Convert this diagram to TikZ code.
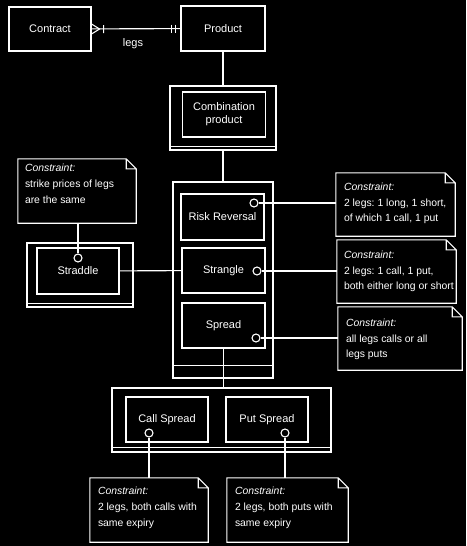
\documentclass[tikz,border=0pt]{standalone}
\usepackage{fontspec}
\setmainfont{Liberation Sans}
\frenchspacing
\tikzset{
  line/.style={draw=white, line width=1.1pt},
  box/.style={line, fill=black, text=white, inner sep=0pt, align=center, font=\fontsize{11}{13}\selectfont},
  port/.style={line, fill=black, circle, minimum size=8pt, inner sep=0pt},
  note/.style={fill=black, inner sep=0pt},
  notetext/.style={text=white, inner sep=0pt, align=left, font=\fontsize{10.4}{15.8}\selectfont},
}
\newcommand\dogear[1]{\draw[line] (#1.north west) -- ([xshift=-10pt]#1.north east) -- ([yshift=-10pt]#1.north east) -- (#1.south east) -- (#1.south west) -- cycle
  ([xshift=-10pt]#1.north east) |- ([yshift=-10pt]#1.north east);}
\newcommand\compline[2]{\draw[line] ([yshift=#2]#1.south west) -- ([yshift=#2]#1.south east);}

\begin{document}
\begin{tikzpicture}[x=1pt,y=-1pt]
\useasboundingbox (0,0) rectangle (466,546);
\fill[black] (0,0) rectangle (466,546);
% contract and product
\node[box, minimum width=82pt, minimum height=44pt] (contract) at (50,29) {Contract};
\node[box, minimum width=84pt, minimum height=45pt] (product) at (223,28.5) {Product};
\draw[line] (contract) -- (product) node[midway, below=6pt, text=white, font=\fontsize{11}{13}\selectfont, xshift=-3pt] (legs) {legs};
\draw[line] ([yshift=5pt]contract.east) -- ([xshift=8pt]contract.east) -- ([yshift=-5pt]contract.east)
  ([xshift=12pt,yshift=4pt]contract.east) -- ([xshift=12pt,yshift=-4pt]contract.east);
\draw[line] ([xshift=-9pt,yshift=4pt]product.west) -- ([xshift=-9pt,yshift=-4pt]product.west)
  ([xshift=-5pt,yshift=4pt]product.west) -- ([xshift=-5pt,yshift=-4pt]product.west);
% combination product
\node[box, minimum width=106pt, minimum height=64pt] (comb) at (223,118) {};
\compline{comb}{4pt}
\node[box, minimum width=83pt, minimum height=45pt] (combin) at (224,114.5) {Combination\\product};
\draw[line] (product) -- (comb);
% strategy family
\node[box, minimum width=100pt, minimum height=196pt] (family) at (223,280) {};
\compline{family}{13pt}
\draw[line] (comb) -- (family);
\node[box, minimum width=83pt, minimum height=46pt] (riskrev) at (222.5,217) {\raisebox{-3pt}{Risk Reversal}};
\node[box, minimum width=83pt, minimum height=45pt] (strangle) at (223.5,270.5) {Strangle};
\node[box, minimum width=83pt, minimum height=45pt] (spread) at (223.5,325.5) {Spread};
\node[port] (rrc) at (254,203) {};
\node[port] (stgc) at (257,271) {};
\node[port] (sprc) at (256,338) {};
% straddle
\node[box, minimum width=106pt, minimum height=64pt] (straddle) at (80,275) {};
\compline{straddle}{4pt}
\node[box, minimum width=82pt, minimum height=46pt] (straddlein) at (78,271) {Straddle};
\node[port] (strc) at (78,258) {};
\draw[line] (straddlein) -- (strangle);
% call and put spreads
\node[box, minimum width=219pt, minimum height=64pt] (spreads) at (221.5,420) {};
\compline{spreads}{5pt}
\node[box, minimum width=82pt, minimum height=45pt] (callspread) at (167,419.5) {Call Spread};
\node[box, minimum width=82pt, minimum height=45pt] (putspread) at (267,419.5) {Put Spread};
\node[port] (callc) at (149,433) {};
\node[port] (putc) at (285,433) {};
\draw[line] (spread.south) -- (spread.south |- spreads.north);
% constraints
\node[note, minimum width=118pt, minimum height=64pt] (notestr) at (77,191) {};
\node[note, minimum width=119pt, minimum height=63pt] (noterr) at (395.5,204.5) {};
\node[note, minimum width=119pt, minimum height=63pt] (notestg) at (396.5,271.5) {};
\node[note, minimum width=124pt, minimum height=63pt] (notespr) at (400,338.5) {};
\node[note, minimum width=118pt, minimum height=64pt] (notecall) at (149,510) {};
\node[note, minimum width=121pt, minimum height=64pt] (noteput) at (287.5,510) {};
\dogear{notestr}\dogear{noterr}\dogear{notestg}\dogear{notespr}\dogear{notecall}\dogear{noteput}
\node[notetext, anchor=north west] (strtext) at ([xshift=7pt,yshift=-5pt]notestr.north west) {\textit{Constraint:}\\strike prices of legs\\are the same};
\node[notetext, anchor=west] (rrtext) at ([xshift=8pt,yshift=1pt]noterr.west) {\textit{Constraint:}\\2 legs: 1 long, 1 short,\\of which 1 call, 1 put};
\node[notetext, anchor=west] (stgtext) at ([xshift=7pt]notestg.west) {\textit{Constraint:}\\2 legs: 1 call, 1 put,\\both either long or short};
\node[notetext, anchor=west] (sprtext) at ([xshift=8pt,yshift=-1pt]notespr.west) {\textit{Constraint:}\\all legs calls or all\\legs puts};
\node[notetext, anchor=west] (calltext) at ([xshift=8pt,yshift=2pt]notecall.west) {\textit{Constraint:}\\2 legs, both calls with\\same expiry};
\node[notetext, anchor=west] (puttext) at ([xshift=8pt,yshift=2pt]noteput.west) {\textit{Constraint:}\\2 legs, both puts with\\same expiry};
\draw[line] (strc) -- (strc |- notestr.south);
\draw[line] (rrc) -- (rrc -| noterr.west);
\draw[line] (stgc) -- (stgc -| notestg.west);
\draw[line] (sprc) -- (sprc -| notespr.west);
\draw[line] (callc) -- (callc |- notecall.north);
\draw[line] (putc) -- (putc |- noteput.north);
\end{tikzpicture}
\end{document}
